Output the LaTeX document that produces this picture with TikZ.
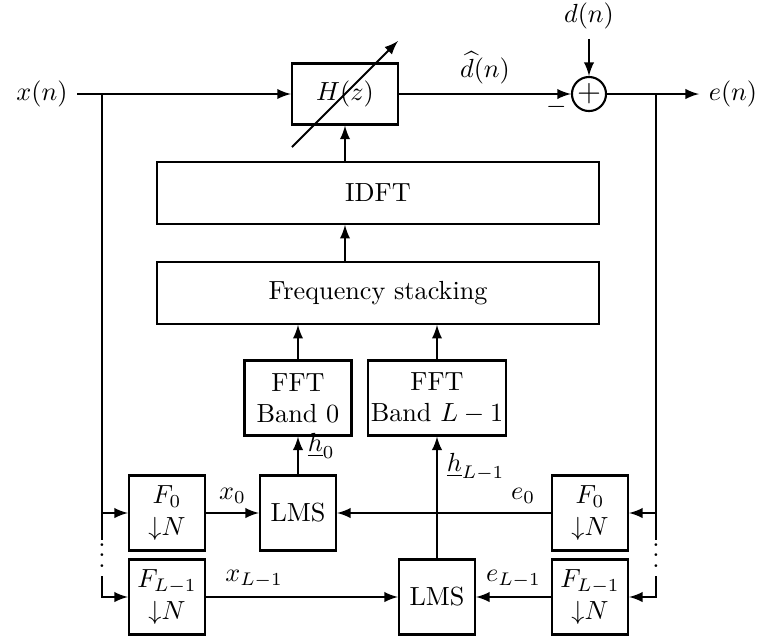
\documentclass[tikz,border=0pt]{standalone}
\usepackage{amsmath}
\usepackage{amssymb}
\usetikzlibrary{calc}

\begin{document}
\begin{tikzpicture}[x=0.01342cm, y=-0.01342cm, thick, >=latex,
	block/.style={draw, rectangle, align=center, minimum width=29pt, minimum height=28.6pt, inner sep=1pt},
	wideblock/.style={draw, rectangle, minimum width=168.7pt, minimum height=23.5pt},
	sumnode/.style={draw, circle, minimum size=13pt, inner sep=0pt}]
\useasboundingbox (0,0) rectangle (761,637);

% Main path
\node (x) at (42,94) {$x(n)$};
\node[draw, minimum width=40.5pt, minimum height=23.3pt] (H) at (345,94) {$H(z)$};
\node[sumnode] (sum) at (589,94) {\large$+$};
\node (d) at (589,16) {$d(n)$};
\node (e) at (733,94) {$e(n)$};
\coordinate (jl) at (102,94);
\coordinate (jr) at (656,94);

\draw[->] (x) -- (H);
\draw[->] (H) -- node[above] {$\widehat{d}(n)$} (sum);
\node[left] at (sum.south west) {$-$};
\draw[->] (d) -- (sum);
\draw[->] (sum) -- (e);
\draw[->] ($(H)+(-53,53)$) -- ($(H)+(53,-53)$);

% Weight update
\node[wideblock] (idft) at (378,193) {IDFT};
\node[wideblock] (freq) at (378,293) {Frequency stacking};
\node[block, minimum width=40.8pt] (fft0) at (298,398) {FFT\\Band $0$};
\node[block] (fftL) at (437,398) {FFT\\Band $L-1$};

\draw[->] (idft.north -| H) -- (H);
\draw[->] (freq.north -| H) -- (idft.south -| H);
\draw[->] (fft0) -- (fft0 |- freq.south);
\draw[->] (fftL) -- (fftL |- freq.south);

% Subbands
\node[block] (F0l) at (167,513) {$F_0$\\${\downarrow}N$};
\node[block] (FLl) at (167,597) {$F_{L-1}$\\${\downarrow}N$};
\node[block] (F0r) at (590,513) {$F_0$\\${\downarrow}N$};
\node[block] (FLr) at (590,597) {$F_{L-1}$\\${\downarrow}N$};
\node[block] (lms0) at (298,513) {LMS};
\node[block] (lmsL) at (437,597) {LMS};
\node[inner sep=0pt, text height=10pt, text depth=3pt] (vdl) at (102,558) {$\vdots$};
\node[inner sep=0pt, text height=10pt, text depth=3pt] (vdr) at (656,558) {$\vdots$};

\draw (jl) -- (vdl);
\draw (jr) -- (vdr);
\draw[->] (jl |- F0l) -- (F0l);
\draw[->] (jr |- F0r) -- (F0r);
\draw[->] (vdl) |- (FLl);
\draw[->] (vdr) |- (FLr);

\draw[->] (F0l) -- node[above] {$x_0$} (lms0);
\draw[->] (F0r) -- node[above, pos=0.13] {$e_0$} (lms0);
\draw[->] (FLl) -- node[above, near start] {$x_{L-1}$} (lmsL);
\draw[->] (FLr) -- node[above] {$e_{L-1}$} (lmsL);
\draw[->] (lms0) -- node[right, near end] {$\underline{h}_0$} (fft0);
\draw[->] (lmsL) -- node[right, near end] {$\underline{h}_{L-1}$} (fftL);
\end{tikzpicture}
\end{document}
